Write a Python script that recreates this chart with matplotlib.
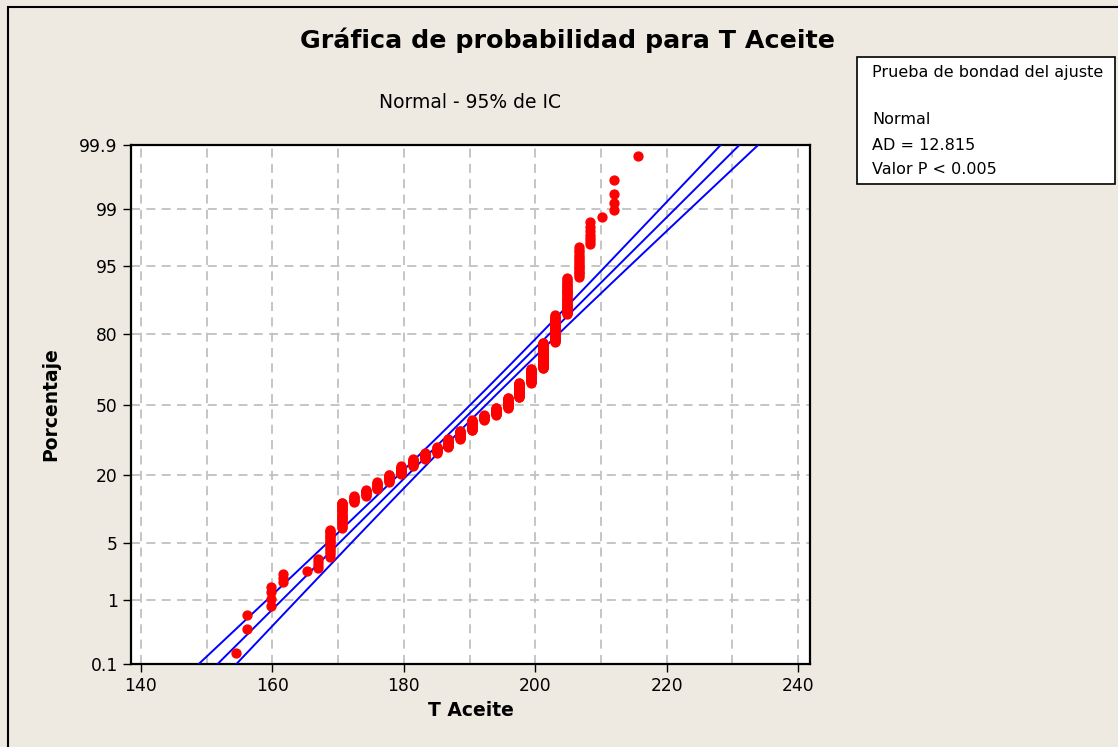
import numpy as np
import matplotlib
matplotlib.use("Agg")
import matplotlib.pyplot as plt
from matplotlib.patches import Rectangle
from statistics import NormalDist

# Distinct T Aceite values (°F) and how many observations share each value
temps = [154.4, 156.2, 159.8, 161.6, 165.2, 167.0, 168.8, 170.6, 172.4, 174.2,
         176.0, 177.8, 179.6, 181.4, 183.2, 185.0, 186.8, 188.6, 190.4, 192.2,
         194.0, 195.8, 197.6, 199.4, 201.2, 203.0, 204.8, 206.6, 208.4, 210.2,
         212.0, 215.6]
counts = [1, 2, 4, 3, 1, 4, 16, 24, 7, 8,
          10, 11, 13, 12, 11, 11, 15, 17, 22, 11,
          15, 22, 31, 29, 47, 39, 35, 16, 7, 1,
          4, 1]

pct_ticks = [0.1, 1, 5, 20, 50, 80, 95, 99, 99.9]
pct_labels = ["0.1", "1", "5", "20", "50", "80", "95", "99", "99.9"]
x_ticks = [140, 160, 180, 200, 220, 240]

title = "Gráfica de probabilidad para T Aceite"
subtitle = "Normal - 95% de IC"
stats_lines = ["Prueba de bondad del ajuste", "", "Normal", "AD = 12.815", "Valor P < 0.005"]

nd = NormalDist()
_ppf = np.vectorize(nd.inv_cdf, otypes=[float])
_cdf = np.vectorize(nd.cdf, otypes=[float])


def fwd(p):
    p = np.clip(np.asarray(p, dtype=float) / 100.0, 1e-9, 1 - 1e-9)
    return _ppf(p)


def inv(z):
    return _cdf(np.asarray(z, dtype=float)) * 100.0


data = np.repeat(temps, counts)
n = len(data)
ranks = np.arange(1, n + 1)
pos = (ranks - 0.3) / (n + 0.4) * 100  # Benard median ranks

mu = data.mean()
sd = data.std(ddof=1)
p_line = np.linspace(0.01, 99.99, 600)
z_line = fwd(p_line)
x_fit = mu + sd * z_line
half = 1.96 * sd * np.sqrt((1 + z_line ** 2 / 2) / n)

bg = "#EEEAE1"
fig = plt.figure(figsize=(11.18, 7.47), dpi=100, facecolor=bg)
ax = fig.add_axes([131 / 1118, 83 / 747, 679 / 1118, 519 / 747])
ax.set_yscale("function", functions=(fwd, inv))

for xs in (x_fit, x_fit - half, x_fit + half):
    ax.plot(xs, p_line, color="#0000FF", lw=1.4, zorder=3)
ax.plot(data, pos, "o", color="#FF0000", ms=6.4, mec="#FF0000", zorder=4)

ax.set_xlim(138.5, 241.8)
ax.set_ylim(0.1, 99.9)
ax.set_xticks(x_ticks)
ax.set_xticks(np.arange(150, 240, 20), minor=True)
ax.set_yticks(pct_ticks)
ax.set_yticklabels(pct_labels)
ax.yaxis.set_minor_locator(matplotlib.ticker.NullLocator())
ax.tick_params(axis="both", which="major", direction="out", length=6, width=1,
               labelsize=12.3, colors="black")
ax.tick_params(axis="x", which="minor", length=0)
ax.grid(True, which="both", color="#C0C0C0", lw=1.3, ls=(0, (5, 3.5)))
ax.set_axisbelow(True)
for s in ax.spines.values():
    s.set_linewidth(1.6)
    s.set_color("black")

ax.set_xlabel("T Aceite", fontsize=13.5, fontweight="bold", labelpad=4)
ax.set_ylabel("Porcentaje", fontsize=13.5, fontweight="bold", labelpad=14)

fig.text(567 / 1118, 1 - 40 / 747, title, ha="center", va="center",
         fontsize=18.3, fontweight="bold")
fig.text(470 / 1118, 1 - 103 / 747, subtitle, ha="center", va="center", fontsize=13.5)

# outer frame
fig.patches.append(Rectangle((8 / 1118, -0.1), 1.2, 1.1 - 7 / 747, transform=fig.transFigure,
                             fill=False, ec="black", lw=1.5))
# stats box
fig.patches.append(Rectangle((857 / 1118, 1 - 184 / 747), 258 / 1118, 127 / 747,
                             transform=fig.transFigure, fc="white", ec="black", lw=1.2))
ys = [73, 97, 120, 145, 169]
for t, y in zip(stats_lines, ys):
    if t:
        fig.text(872 / 1118, 1 - y / 747, t, ha="left", va="center", fontsize=11.5)

fig.savefig("out.png", dpi=100, facecolor=bg)
